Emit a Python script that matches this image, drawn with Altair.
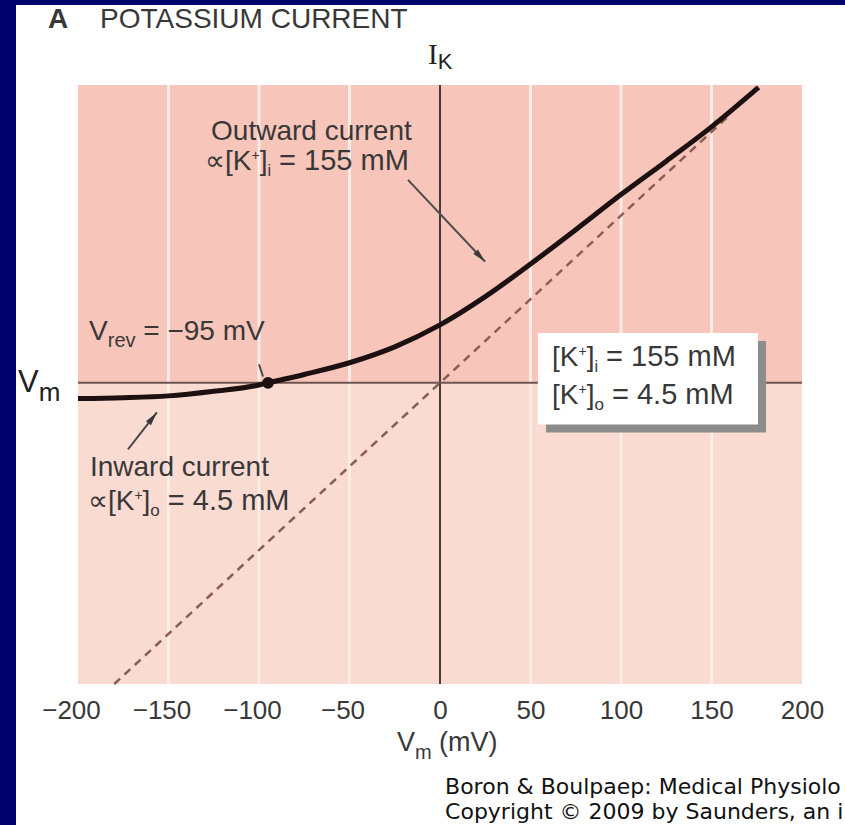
import math
import altair as alt
import pandas as pd

# ---------------- data ----------------
V_CURVE = [-200, -175, -150, -125, -100, -95, -75, -50, -25, 0, 25, 50, 75, 100, 125, 150, 176]
I_CURVE = [-9.4, -8.9, -7.8, -5.0, -1.3, 0, 5.0, 12.0, 21.5, 34.6, 51.5, 71.0, 91.5, 112.5, 132.5, 153.0, 176.6]
V_OHMIC = [-180, 160]
I_OHMIC = [-180, 160]
V_REV = -95
GRID_V = [-150, -100, -50, 50, 100, 150]
X_TICKS = [-200, -150, -100, -50, 0, 50, 100, 150, 200]
XDOM = [-200, 200]
YDOM = [-180, 178]

# ---------------- layout ----------------
W, H = 724, 599
PAD = {"left": 78, "top": 85, "right": 43, "bottom": 141}
kx = W / (XDOM[1] - XDOM[0])
ky = H / (YDOM[1] - YDOM[0])

NAVY = "#00006b"
UPPER = "#f7c5b9"
LOWER = "#fadbd2"
GRIDC = "#fdebe5"
TXT = "#383838"

xs = alt.Scale(domain=XDOM, nice=False, zero=False)
ys = alt.Scale(domain=YDOM, nice=False, zero=False)
XAX = alt.Axis(values=X_TICKS, title=None, grid=False, domain=False, ticks=False,
               labelFont="Liberation Sans", labelFontSize=26, labelColor=TXT,
               labelPadding=13, labelFlush=False, zindex=2,
               labelOffset={"condition": {"test": "datum.value < 0", "value": -7}, "value": 0})

ARIAL = {" ": 278, "(": 333, ")": 333, "+": 584, ".": 278, "=": 584, "[": 278, "]": 278,
         "\u2212": 584, "\u221d": 713, "&": 667, ":": 278, ",": 278,
         "A": 667, "C": 722, "E": 667, "I": 278, "K": 667, "M": 833, "N": 722, "O": 778,
         "P": 667, "R": 722, "S": 667, "T": 611, "U": 722, "V": 667,
         "a": 556, "c": 500, "d": 556, "e": 556, "i": 222, "m": 833, "n": 556, "o": 556,
         "r": 333, "t": 278, "u": 556, "v": 500, "w": 722}


def text_w(s, size):
    return sum(ARIAL.get(c, 556) for c in s) * size / 1000.0


# annotation lines: start (V, I) in data units, style, colour, runs (text, size, baseline shift px)
LINES = [
    (-216.6, 212.0, "bold", TXT, [("A", 28, 0)]),
    (-187.8, 212.0, "sans", TXT, [("POTASSIUM CURRENT", 28, 0)]),
    (-6.6, 190.6, "serif", "#222222", [("I", 29, 0)]),
    (-1.2, 187.6, "sans", "#222222", [("K", 22, 0)]),
    (-233.1, -5.2, "sans", "#222222", [("V", 31, 0), ("m", 26, 9)]),
    (-126.5, 145.2, "sans", TXT, [("Outward current", 28, 0)]),
    (-129.8, 127.3, "sans", TXT, [("\u221d[K", 28, 0), ("+", 14, -10), ("]", 28, 0), ("i", 16, 6), (" = 155 mM", 29, 0)]),
    (-193.9, 25.8, "sans", TXT, [("V", 28, 0), ("rev", 20, 7), (" = \u221295 mV", 28, 0)]),
    (-193.4, -55.9, "sans", TXT, [("Inward current", 28, 0)]),
    (-194.5, -76.0, "sans", TXT, [("\u221d[K", 28, 0), ("+", 14, -10), ("]", 28, 0), ("o", 17, 6), (" = 4.5 mM", 29, 0)]),
    (61.9, 10.3, "sans", TXT, [("[K", 28, 0), ("+", 14, -10), ("]", 28, 0), ("i", 16, 6), (" = 155 mM", 29, 0)]),
    (61.9, -12.9, "sans", TXT, [("[K", 28, 0), ("+", 14, -10), ("]", 28, 0), ("o", 17, 6), (" = 4.5 mM", 29, 0)]),
    (-23.8, -220.0, "sans", TXT, [("V", 27, 0), ("m", 20, 8), (" (mV)", 27, 0)]),
    (2.8, -245.6, "credit", "#111111", [("Boron & Boulpaep: Medical Physiolo", 22, 0)]),
    (2.8, -260.5, "credit", "#111111", [("Copyright \u00a9 2009 by Saunders, an i", 22, 0)]),
]

rows = []
for v0, i0, style, color, runs in LINES:
    cx = 0.0
    for text, size, shift in runs:
        lead = len(text) - len(text.lstrip(" "))
        cx += text_w(" " * lead, size)          # leading blanks become an advance
        body = text.lstrip(" ")
        rows.append(dict(V=v0 + cx / kx, I=i0 - shift / ky, text=body, size=size,
                         style=style, color=color))
        cx += text_w(body, size)
text_df = pd.DataFrame(rows)

# arrows and leader (data units)
ARROWS = [(-17.7, 121.3, 24.9, 72.4), (-172.4, -39.8, -156.4, -17.7)]
LEADER = (-100.0, 11.0, -97.8, 3.8)

seg_rows, head_rows = [], []
for k, (v1, i1, v2, i2) in enumerate(ARROWS):
    seg_rows.append(dict(id=k, V=v1, I=i1))
    seg_rows.append(dict(id=k, V=v2, I=i2))
    dxp = (v2 - v1) * kx
    dyp = -(i2 - i1) * ky
    ang = math.degrees(math.atan2(dxp, -dyp)) % 360
    head_rows.append(dict(V=v2, I=i2, ang=ang))
seg_rows.append(dict(id=9, V=LEADER[0], I=LEADER[1]))
seg_rows.append(dict(id=9, V=LEADER[2], I=LEADER[3]))
seg_df = pd.DataFrame(seg_rows)
head_df = pd.DataFrame(head_rows)

curve_df = pd.DataFrame({"V": V_CURVE, "I": I_CURVE})
ohm_df = pd.DataFrame({"V": V_OHMIC, "I": I_OHMIC})
band_df = pd.DataFrame({"V0": [XDOM[0]] * 2, "V1": [XDOM[1]] * 2,
                        "I0": [0, YDOM[0]], "I1": [YDOM[1], 0], "c": [UPPER, LOWER]})
grid_df = pd.DataFrame({"V": GRID_V, "I0": YDOM[0], "I1": YDOM[1]})
box_df = pd.DataFrame({"V0": [58.6, 54.1], "V1": [180.1, 175.7], "I0": [25.0, 29.8], "I1": [-29.7, -24.9],
                       "c": ["#8c8c8c", "#ffffff"]})


def X(f):
    return alt.X(f, scale=xs, axis=XAX)


def Y(f):
    return alt.Y(f, scale=ys, axis=None)


# ---------------- layers ----------------
panel = alt.Chart(pd.DataFrame({"a": [0]})).mark_rect(color="white").encode(
    x=alt.value(-62), x2=alt.value(W + PAD["right"]), y=alt.value(-80), y2=alt.value(H + PAD["bottom"]))

bands = alt.Chart(band_df).mark_rect().encode(
    x=X("V0:Q"), x2="V1:Q", y=Y("I0:Q"), y2="I1:Q", color=alt.Color("c:N", scale=None))

grid = alt.Chart(grid_df).mark_rule(color=GRIDC, strokeWidth=3).encode(
    x=X("V:Q"), y=Y("I0:Q"), y2="I1:Q")

vaxis = alt.Chart(pd.DataFrame({"V": [0], "I0": [YDOM[0]], "I1": [YDOM[1]]})).mark_rule(
    color="#4a3a38", strokeWidth=2).encode(x=X("V:Q"), y=Y("I0:Q"), y2="I1:Q")

haxis = alt.Chart(pd.DataFrame({"I": [0], "V0": [XDOM[0]], "V1": [XDOM[1]]})).mark_rule(
    color="#6e5550", strokeWidth=2).encode(y=Y("I:Q"), x=X("V0:Q"), x2="V1:Q")

ohm = alt.Chart(ohm_df).mark_line(color="#8b5d57", strokeWidth=2.5, strokeDash=[8, 6]).encode(
    x=X("V:Q"), y=Y("I:Q"))

curve = alt.Chart(curve_df).mark_line(color="#1c1010", strokeWidth=5, interpolate="monotone").encode(
    x=X("V:Q"), y=Y("I:Q"))

dot = alt.Chart(pd.DataFrame({"V": [V_REV], "I": [0]})).mark_point(
    filled=True, color="#1c1010", size=140, opacity=1).encode(x=X("V:Q"), y=Y("I:Q"))

box = alt.Chart(box_df).mark_rect().encode(
    x=X("V0:Q"), x2="V1:Q", y=Y("I0:Q"), y2="I1:Q", color=alt.Color("c:N", scale=None))

segs = alt.Chart(seg_df).mark_line(color="#4a4a4a", strokeWidth=2).encode(
    x=X("V:Q"), y=Y("I:Q"), detail="id:N")

heads = alt.Chart(head_df).mark_point(
    shape="M0,0L0.3,1.3L-0.3,1.3Z", filled=True, color="#3a3a3a", size=450, opacity=1).encode(
    x=X("V:Q"), y=Y("I:Q"), angle=alt.Angle("ang:Q", scale=None))

FONTS = {"sans": ("Liberation Sans", "normal"), "bold": ("Liberation Sans", "bold"),
         "serif": ("Liberation Serif", "normal"), "credit": ("DejaVu Sans", "normal")}
text_layers = []
for st, (fnt, wt) in FONTS.items():
    text_layers.append(
        alt.Chart(text_df).transform_filter(alt.datum.style == st).mark_text(
            align="left", baseline="alphabetic", font=fnt, fontWeight=wt).encode(
            x=X("V:Q"), y=Y("I:Q"),
            text="text:N", size=alt.Size("size:Q", scale=None), color=alt.Color("color:N", scale=None)))

chart = alt.layer(panel, bands, grid, vaxis, haxis, ohm, curve, dot, box, segs, heads, *text_layers).properties(
    width=W, height=H, padding=PAD, autosize=alt.AutoSizeParams(type="none"), background=NAVY
).configure_view(stroke=None)

chart.save("out.html", embed_options={"renderer": "svg", "actions": False})
